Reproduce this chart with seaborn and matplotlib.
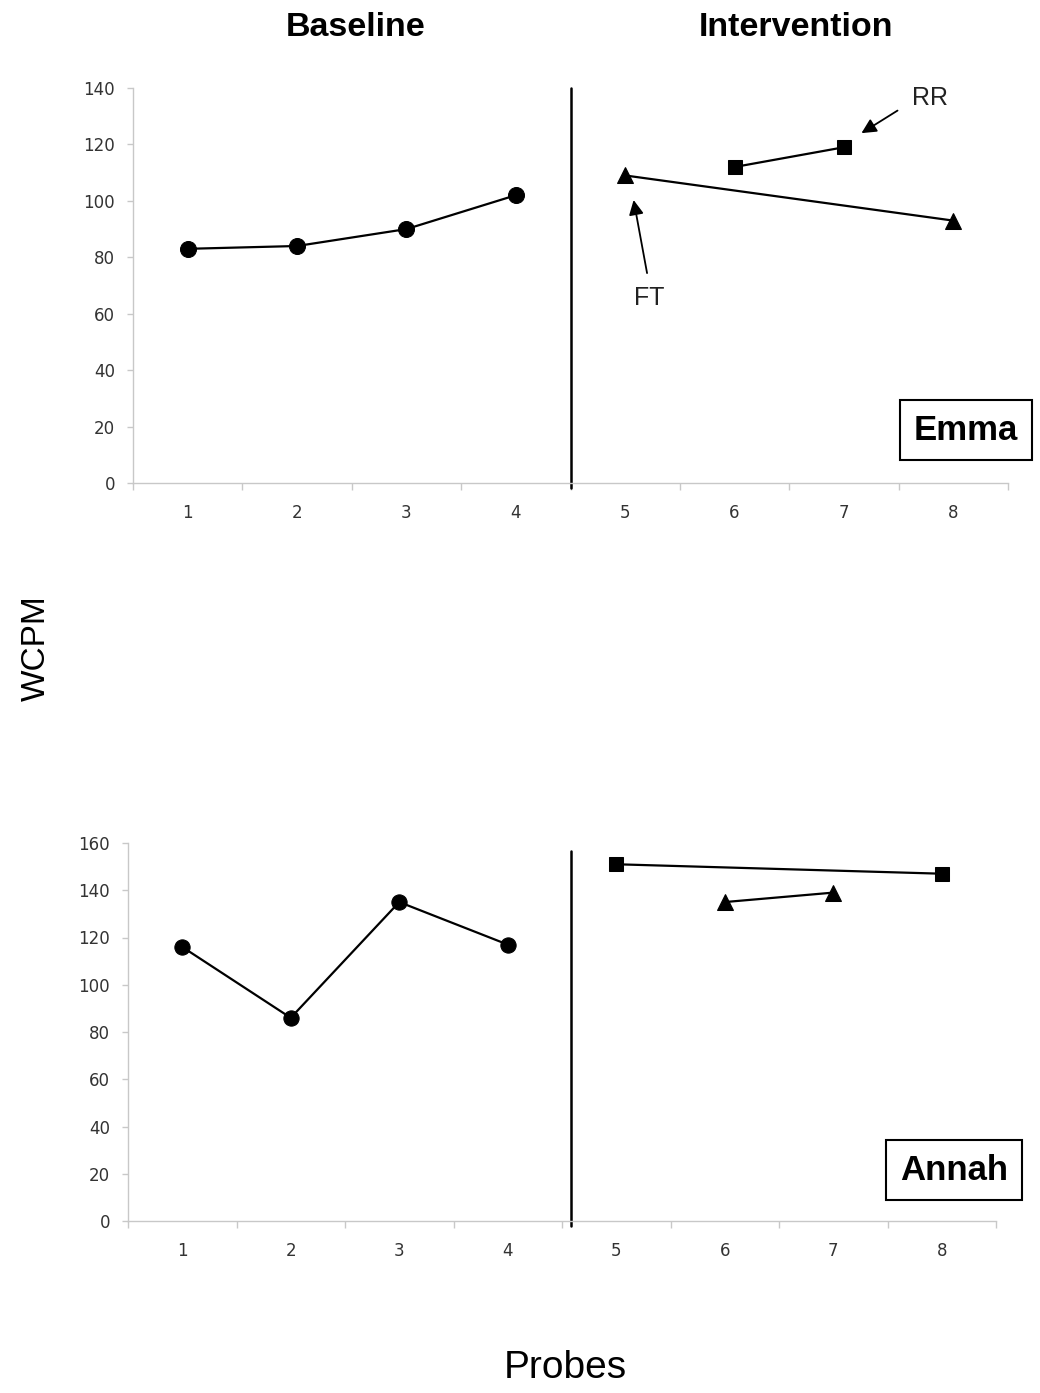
import matplotlib
matplotlib.use("Agg")
import matplotlib.pyplot as plt
import seaborn as sns
import numpy as np

sns.set_theme(style="white")
plt.rcParams['font.family'] = ['Liberation Sans', 'DejaVu Sans']
plt.rcParams['text.color'] = 'black'

probes = [1, 2, 3, 4, 5, 6, 7, 8]
tick_labels = ["1", "2", "3", "4", "5", "6", "7", "8"]

# Emma
emma_base_x = [1, 2, 3, 4]
emma_base_y = [83, 84, 90, 102]
emma_ft_x = [5, 8]
emma_ft_y = [109, 93]
emma_rr_x = [6, 7]
emma_rr_y = [112, 119]

# Annah
annah_base_x = [1, 2, 3, 4]
annah_base_y = [116, 86, 135, 117]
annah_rr_x = [5, 8]
annah_rr_y = [151, 147]
annah_ft_x = [6, 7]
annah_ft_y = [135, 139]

W, H = 1040, 1393
fig = plt.figure(figsize=(W / 100, H / 100), dpi=100)

def rect(l, r, t, b):
    return [l / W, 1 - b / H, (r - l) / W, (b - t) / H]

ax1 = fig.add_axes(rect(133, 1008, 88, 483))
ax2 = fig.add_axes(rect(128, 996, 843, 1221))

gray = "#c8c8c8"
tickc = "#333333"

def style_axes(ax, ymax, line_x, line_top):
    ax.set_xlim(0.5, 8.5)
    ax.set_ylim(0, ymax)
    ax.set_yticks(np.arange(0, ymax + 1, 20))
    ax.set_xticks(probes)
    ax.set_xticklabels(tick_labels)
    ax.set_xticks(np.arange(0.5, 9, 1), minor=True)
    for s in ["top", "right"]:
        ax.spines[s].set_visible(False)
    for s in ["left", "bottom"]:
        ax.spines[s].set_color(gray)
        ax.spines[s].set_linewidth(1.0)
    ax.tick_params(axis="x", which="major", length=0, pad=15, labelsize=12, labelcolor=tickc,
                   labelfontfamily="DejaVu Sans")
    ax.tick_params(axis="x", which="minor", length=5, color=gray, width=1, direction="out", bottom=True)
    ax.tick_params(axis="y", which="major", length=4, color=gray, width=1, direction="out", left=True,
                   pad=9, labelsize=12, labelcolor=tickc, labelfontfamily="DejaVu Sans")
    ax.set_xlabel("")
    ax.set_ylabel("")
    ax.axvline(line_x, ymin=-0.012, ymax=line_top, color="black", lw=1.8, clip_on=False)
    ax.grid(False)

def series(ax, x, y, marker, ms):
    sns.lineplot(x=x, y=y, ax=ax, color="black", lw=1.6, marker=marker, markersize=ms,
                 markeredgecolor="black", markerfacecolor="black", legend=False, clip_on=False)

series(ax1, emma_base_x, emma_base_y, "o", 11.5)
series(ax1, emma_ft_x, emma_ft_y, "^", 12)
series(ax1, emma_rr_x, emma_rr_y, "s", 10.5)
style_axes(ax1, 140, 4.5, 1.0)

series(ax2, annah_base_x, annah_base_y, "o", 11)
series(ax2, annah_rr_x, annah_rr_y, "s", 10.5)
series(ax2, annah_ft_x, annah_ft_y, "^", 12)
style_axes(ax2, 160, 4.585, (1221 - 851) / (1221 - 843))

# Name boxes
box = dict(boxstyle="square,pad=0.4", facecolor="white", edgecolor="black", linewidth=1.5)
fig.text(966 / W, 1 - 430 / H, "Emma", fontsize=25, fontweight="bold", ha="center", va="center", bbox=box)
fig.text(954 / W, 1 - 1170 / H, "Annah", fontsize=25, fontweight="bold", ha="center", va="center", bbox=box)

# Annotations
arrow = dict(arrowstyle="-|>", color="black", lw=1.3, mutation_scale=22, shrinkA=0, shrinkB=0)
ax1.annotate("", xy=(7.16, 124), xytext=(7.49, 132), arrowprops=arrow)
ax1.text(7.62, 136.5, "RR", fontsize=18, color="#222222", ha="left", va="center")
ax1.annotate("", xy=(5.077, 100.3), xytext=(5.20, 74.4), arrowprops=arrow)
ax1.text(5.22, 65.5, "FT", fontsize=18, color="#222222", ha="center", va="center")

# Phase titles
fig.text(356 / W, 1 - 28 / H, "Baseline", fontsize=24.5, fontweight="bold", ha="center", va="center")
fig.text(796 / W, 1 - 28 / H, "Intervention", fontsize=24.5, fontweight="bold", ha="center", va="center")

# Axis labels
fig.text(36 / W, 1 - 648 / H, "WCPM", fontsize=24, rotation=90, ha="center", va="center")
fig.text(565 / W, 1 - 1368 / H, "Probes", fontsize=28, ha="center", va="center")

fig.savefig("out.png", dpi=100, facecolor="white")
